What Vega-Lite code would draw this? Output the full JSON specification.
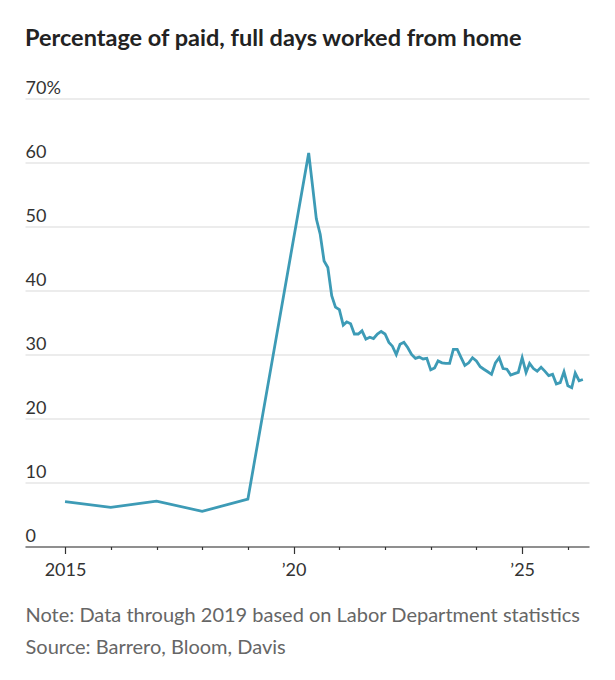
{
  "$schema": "https://vega.github.io/schema/vega-lite/v6.json",
  "autosize": {"type": "none"},
  "width": 564,
  "height": 448,
  "padding": {"left": 25, "top": 98.5, "right": 26, "bottom": 133.5},
  "background": "white",
  "title": {
    "text": "Percentage of paid, full days worked from home",
    "anchor": "start",
    "font": "Lato",
    "fontSize": 23.5,
    "fontWeight": "bold",
    "color": "#222222",
    "baseline": "alphabetic",
    "offset": 10
  },
  "data": {
    "values": [
      {"date": "2015-01-01", "pct": 7.0},
      {"date": "2016-01-01", "pct": 6.1},
      {"date": "2017-01-01", "pct": 7.1},
      {"date": "2018-01-01", "pct": 5.5},
      {"date": "2019-01-01", "pct": 7.4},
      {"date": "2020-05-01", "pct": 61.5},
      {"date": "2020-06-01", "pct": 56.3},
      {"date": "2020-07-01", "pct": 51.2},
      {"date": "2020-08-01", "pct": 48.8},
      {"date": "2020-09-01", "pct": 44.6},
      {"date": "2020-10-01", "pct": 43.6},
      {"date": "2020-11-01", "pct": 39.2},
      {"date": "2020-12-01", "pct": 37.4},
      {"date": "2021-01-01", "pct": 37.0},
      {"date": "2021-02-01", "pct": 34.6},
      {"date": "2021-03-01", "pct": 35.1},
      {"date": "2021-04-01", "pct": 34.8},
      {"date": "2021-05-01", "pct": 33.2},
      {"date": "2021-06-01", "pct": 33.2},
      {"date": "2021-07-01", "pct": 33.7},
      {"date": "2021-08-01", "pct": 32.4},
      {"date": "2021-09-01", "pct": 32.7},
      {"date": "2021-10-01", "pct": 32.5},
      {"date": "2021-11-01", "pct": 33.2},
      {"date": "2021-12-01", "pct": 33.6},
      {"date": "2022-01-01", "pct": 33.2},
      {"date": "2022-02-01", "pct": 31.9},
      {"date": "2022-03-01", "pct": 31.3},
      {"date": "2022-04-01", "pct": 30.0},
      {"date": "2022-05-01", "pct": 31.6},
      {"date": "2022-06-01", "pct": 31.9},
      {"date": "2022-07-01", "pct": 31.1},
      {"date": "2022-08-01", "pct": 30.0},
      {"date": "2022-09-01", "pct": 29.4},
      {"date": "2022-10-01", "pct": 29.6},
      {"date": "2022-11-01", "pct": 29.3},
      {"date": "2022-12-01", "pct": 29.4},
      {"date": "2023-01-01", "pct": 27.6},
      {"date": "2023-02-01", "pct": 27.9},
      {"date": "2023-03-01", "pct": 29.0},
      {"date": "2023-04-01", "pct": 28.7},
      {"date": "2023-05-01", "pct": 28.6},
      {"date": "2023-06-01", "pct": 28.6},
      {"date": "2023-07-01", "pct": 30.8},
      {"date": "2023-08-01", "pct": 30.8},
      {"date": "2023-09-01", "pct": 29.5},
      {"date": "2023-10-01", "pct": 28.3},
      {"date": "2023-11-01", "pct": 28.7},
      {"date": "2023-12-01", "pct": 29.5},
      {"date": "2024-01-01", "pct": 29.0},
      {"date": "2024-02-01", "pct": 28.1},
      {"date": "2024-03-01", "pct": 27.7},
      {"date": "2024-04-01", "pct": 27.3},
      {"date": "2024-05-01", "pct": 26.9},
      {"date": "2024-06-01", "pct": 28.7},
      {"date": "2024-07-01", "pct": 29.5},
      {"date": "2024-08-01", "pct": 27.8},
      {"date": "2024-09-01", "pct": 27.7},
      {"date": "2024-10-01", "pct": 26.8},
      {"date": "2024-11-01", "pct": 27.0},
      {"date": "2024-12-01", "pct": 27.2},
      {"date": "2025-01-01", "pct": 29.5},
      {"date": "2025-02-01", "pct": 27.2},
      {"date": "2025-03-01", "pct": 28.6},
      {"date": "2025-04-01", "pct": 27.8},
      {"date": "2025-05-01", "pct": 27.4},
      {"date": "2025-06-01", "pct": 28.0},
      {"date": "2025-07-01", "pct": 27.4},
      {"date": "2025-08-01", "pct": 26.7},
      {"date": "2025-09-01", "pct": 26.9},
      {"date": "2025-10-01", "pct": 25.4},
      {"date": "2025-11-01", "pct": 25.6},
      {"date": "2025-12-01", "pct": 27.3},
      {"date": "2026-01-01", "pct": 25.1},
      {"date": "2026-02-01", "pct": 24.8},
      {"date": "2026-03-01", "pct": 27.1},
      {"date": "2026-04-01", "pct": 25.9},
      {"date": "2026-05-01", "pct": 26.1}
    ]
  },
  "mark": {"type": "line", "color": "#3d9bb6", "strokeWidth": 2.8},
  "encoding": {
    "x": {
      "field": "date",
      "type": "temporal",
      "scale": {
        "type": "utc",
        "domain": [
          {"year": 2014, "month": 2, "date": 15, "utc": true},
          {"year": 2026, "month": 6, "date": 19, "utc": true}
        ]
      },
      "axis": {
        "values": [
          {"year": 2015, "utc": true}, {"year": 2016, "utc": true}, {"year": 2017, "utc": true},
          {"year": 2018, "utc": true}, {"year": 2019, "utc": true}, {"year": 2020, "utc": true},
          {"year": 2021, "utc": true}, {"year": 2022, "utc": true}, {"year": 2023, "utc": true},
          {"year": 2024, "utc": true}, {"year": 2025, "utc": true}, {"year": 2026, "utc": true}
        ],
        "labelExpr": "utcyear(datum.value) == 2015 ? '2015' : utcyear(datum.value) == 2020 ? '\u201920' : utcyear(datum.value) == 2025 ? '\u201925' : ''",
        "grid": false,
        "domain": true,
        "domainColor": "#333333",
        "domainWidth": 1.2,
        "ticks": true,
        "tickColor": "#333333",
        "tickWidth": 1.2,
        "tickSize": {"condition": {"test": "utcyear(datum.value) % 5 == 0", "value": 7}, "value": 3},
        "labelFont": "Lato",
        "labelFontSize": 18,
        "labelColor": "#333333",
        "labelPadding": 8,
        "labelBaseline": "top",
        "labelFlush": false,
        "labelOverlap": false,
        "title": ["Note: Data through 2019 based on Labor Department statistics", "Source: Barrero, Bloom, Davis"],
        "titleFont": "Lato",
        "titleFontSize": 20,
        "titleFontWeight": "normal",
        "titleColor": "#666666",
        "titleAnchor": "start",
        "titleAlign": "left",
        "titleBaseline": "alphabetic",
        "titleX": 0,
        "titleY": 75,
        "titleLineHeight": 31.5
      }
    },
    "y": {
      "field": "pct",
      "type": "quantitative",
      "scale": {"domain": [0, 70], "nice": false, "zero": true},
      "axis": {
        "values": [0, 10, 20, 30, 40, 50, 60, 70],
        "labelExpr": "datum.value == 70 ? '70%' : datum.label",
        "format": "d",
        "domain": false,
        "ticks": false,
        "tickSize": 0,
        "grid": true,
        "gridColor": "#d9d9d9",
        "gridWidth": 1,
        "labelAlign": "left",
        "labelBaseline": "alphabetic",
        "labelPadding": 0,
        "labelOffset": -5,
        "labelFont": "Lato",
        "labelFontSize": 18,
        "labelColor": "#333333",
        "title": null
      }
    }
  },
  "config": {"view": {"stroke": null}}
}
